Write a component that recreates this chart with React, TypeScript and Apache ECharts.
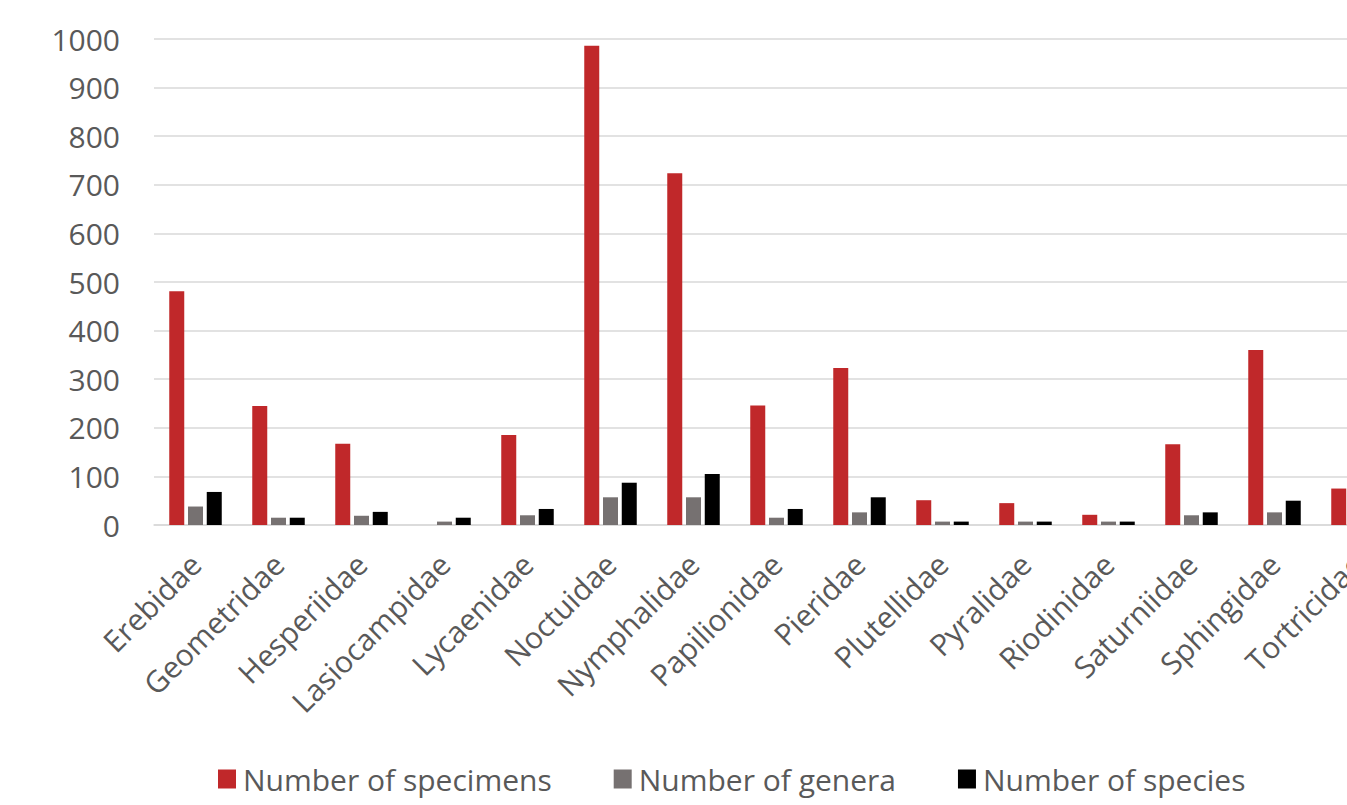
import React, { useEffect, useRef } from "react";
import * as echarts from "echarts";

const families = [
  "Erebidae", "Geometridae", "Hesperiidae", "Lasiocampidae", "Lycaenidae",
  "Noctuidae", "Nymphalidae", "Papilionidae", "Pieridae", "Plutellidae",
  "Pyralidae", "Riodinidae", "Saturniidae", "Sphingidae", "Tortricidae",
];
const specimens = [481, 245, 167, 0, 185, 986, 724, 246, 323, 51, 45, 21, 166, 360, 75];
const genera = [38, 15, 19, 7, 20, 57, 57, 15, 26, 7, 7, 7, 20, 26, 7];
const species = [68, 15, 27, 15, 33, 87, 105, 33, 57, 7, 7, 7, 26, 50, 10];
const seriesNames = ["Number of specimens", "Number of genera", "Number of species"];
const seriesColors = ["#C0282A", "#767171", "#000000"];

export default function App() {
  const ref = useRef<HTMLDivElement>(null);
  useEffect(() => {
    document.body.style.margin = "0";
    const chart = echarts.init(ref.current!, null, { renderer: "svg" });
    const font = "'Open Sans', sans-serif";
    const data = [specimens, genera, species];
    const legendWidths = [312, 288, undefined];
    chart.setOption({
      animation: false,
      backgroundColor: "#ffffff",
      grid: { left: 154, top: 39, height: 486, width: 1245, containLabel: false, outerBoundsMode: "none" },
      legend: {
        bottom: 6,
        left: 213,
        itemWidth: 18,
        itemHeight: 19,
        itemGap: 62,
        icon: "rect",
        textStyle: { fontFamily: font, fontSize: 30, color: "#595959", padding: [0, 0, 0, 2] },
        data: seriesNames.map((name, i) => ({
          name,
          textStyle: legendWidths[i] ? { width: legendWidths[i] } : {},
        })),
      },
      xAxis: {
        type: "category",
        data: families,
        axisLine: { show: true, lineStyle: { color: "#d9d9d9", width: 1.5 } },
        axisTick: { show: false },
        axisLabel: {
          interval: 0,
          rotate: 45,
          margin: 34,
          fontFamily: font,
          fontSize: 30,
          color: "#595959",
        },
      },
      yAxis: {
        type: "value",
        min: 0,
        max: 1000,
        interval: 100,
        axisLine: { show: false },
        axisTick: { show: false },
        splitLine: { lineStyle: { color: "#d9d9d9", width: 1.5 } },
        axisLabel: {
          margin: 34,
          fontFamily: font,
          fontSize: 30,
          color: "#595959",
          formatter: (v: number) => String(v),
        },
      },
      series: seriesNames.map((name, i) => ({
        name,
        type: "bar",
        data: data[i],
        barWidth: 15,
        barGap: "25%",
        itemStyle: { color: seriesColors[i] },
      })),
    });
    return () => chart.dispose();
  }, []);
  return (
    <div
      ref={ref}
      style={{ position: "absolute", left: 0, top: 0, width: 1347, height: 805, overflow: "hidden" }}
    />
  );
}
